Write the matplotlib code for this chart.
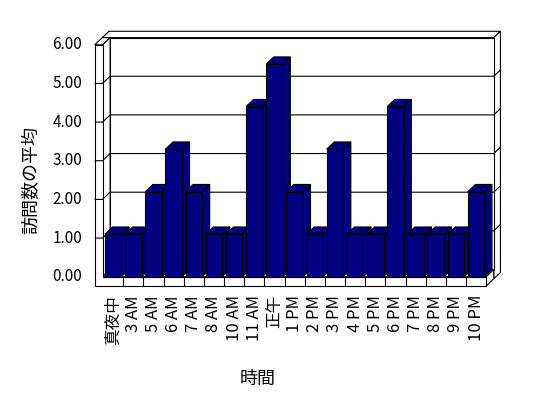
import matplotlib
matplotlib.use("Agg")
import matplotlib.pyplot as plt
from matplotlib.patches import Polygon

plt.rcParams['font.family'] = ['Noto Sans CJK JP', 'DejaVu Sans']

# ---- data ----
categories = ["真夜中", "3 AM", "5 AM", "6 AM", "7 AM", "8 AM", "10 AM", "11 AM", "正午",
              "1 PM", "2 PM", "3 PM", "4 PM", "5 PM", "6 PM", "7 PM", "8 PM", "9 PM", "10 PM"]
values = [1.1, 1.1, 2.2, 3.3, 2.2, 1.1, 1.1, 4.4, 5.5,
          2.2, 1.1, 3.3, 1.1, 1.1, 4.4, 1.1, 1.1, 1.1, 2.2]
yticks = [0, 1, 2, 3, 4, 5, 6]
ytick_labels = ["0.00", "1.00", "2.00", "3.00", "4.00", "5.00", "6.00"]
xlabel = "時間"
ylabel = "訪問数の平均"

# ---- layout (pixel-linear data space) ----
W, H = 548, 398
X0, CW = 113.2, 20.16      # pixel x of first category centre, px per category
Y0, VS = 276.7, 38.65      # pixel y of value 0 (front), px per unit
fig = plt.figure(figsize=(W / 100, H / 100), dpi=100)
ax = fig.add_axes([0, 0, 1, 1])
ax.set_xlim((0 - X0) / CW, (W - X0) / CW)
ax.set_ylim((Y0 - H) / VS, (Y0 - 0) / VS)
ax.axis('off')

ox, oy = 7.6 / CW, 7.2 / VS          # depth offset
t = 0.88                              # back wall thickness (depth units)
L0, L1 = (94.7 - X0) / CW, (102.5 - X0) / CW
n = len(categories)
R = n - 0.5
f = 9.3 / VS
top = yticks[-1]
lw = 0.8
navy = "#000080"


def poly(pts, fc="white", z=1.0):
    ax.add_patch(Polygon(pts, closed=True, facecolor=fc, edgecolor="black",
                         linewidth=lw, zorder=z, joinstyle="miter"))


# back wall slab
poly([(L0 + ox, top + oy), (R + ox, top + oy),
      (R + ox * (1 + t), top + oy * (1 + t)), (L0 + ox * (1 + t), top + oy * (1 + t))])
poly([(R + ox, -f + oy), (R + ox, top + oy),
      (R + ox * (1 + t), top + oy * (1 + t)), (R + ox * (1 + t), -f + oy * (1 + t))])
poly([(L1 + ox, oy), (R + ox, oy), (R + ox, top + oy), (L1 + ox, top + oy)])
# left wall inner and top faces
poly([(L1, 0), (L1, top), (L1 + ox, top + oy), (L1 + ox, oy)], z=1.1)
poly([(L0, top), (L1, top), (L1 + ox, top + oy), (L0 + ox, top + oy)], z=1.1)
# floor top and right end
poly([(L1, 0), (R, 0), (R + ox, oy), (L1 + ox, oy)], z=1.1)
poly([(R, -f), (R, 0), (R + ox, oy), (R + ox, -f + oy)], z=1.1)
# L-shaped front face (left wall end + floor front)
poly([(L0, top), (L0, -f), (R, -f), (R, 0), (L1, 0), (L1, top)], z=1.3)

# gridlines
for v in yticks[1:-1]:
    ax.plot([L0, L1, L1 + ox, R + ox, R + ox * (1 + t)],
            [v, v, v + oy, v + oy, v + oy * (1 + t)],
            color="black", linewidth=lw, zorder=1.4, solid_capstyle="butt")
# category ticks on floor front
for k in range(n - 1):
    ax.plot([k + 0.5, k + 0.5], [0, -f], color="black", linewidth=lw, zorder=1.4)

# bars
bw = 0.82
for k, v in enumerate(values):
    a, b = k - bw / 2, k + bw / 2
    z = 3 + k * 0.01
    poly([(b, 0), (b, v), (b + ox, v + oy), (b + ox, oy)], fc=navy, z=z)
    poly([(a, v), (b, v), (b + ox, v + oy), (a + ox, v + oy)], fc=navy, z=z)
ax.bar(range(n), values, width=bw, color=navy, edgecolor="black",
       linewidth=lw, zorder=3.5)
# re-order so each bar's front sits with its own side/top
for k, p in enumerate(ax.containers[0].patches):
    p.set_zorder(3 + k * 0.01 + 0.005)

# tick labels
for v, s in zip(yticks, ytick_labels):
    ax.text((82.3 - X0) / CW, v, s, ha="right", va="center", fontsize=11)
for k, s in enumerate(categories):
    ax.text(k, (Y0 - 295) / VS, s, rotation=90, ha="center", va="top", fontsize=12)

fig.text(258 / W, 1 - 379 / H, xlabel, ha="center", va="center", fontsize=13)
fig.text(31 / W, 1 - 180 / H, ylabel, ha="center", va="center", rotation=90, fontsize=13)

fig.savefig("out.png", dpi=100, facecolor="white")
